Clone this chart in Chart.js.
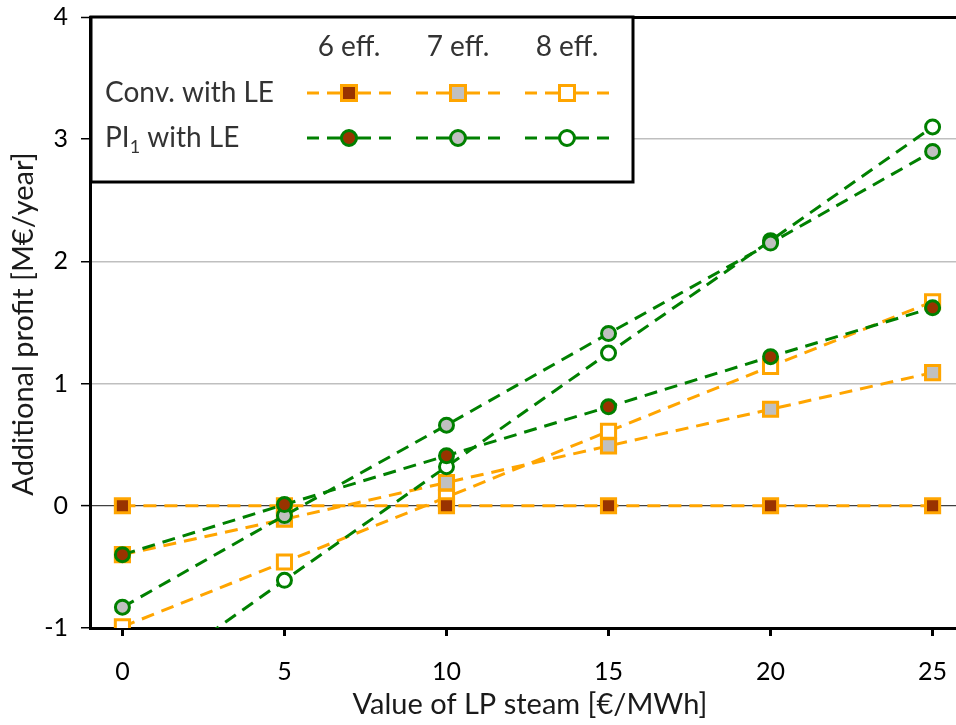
<!DOCTYPE html>
<html>
<head>
<meta charset="utf-8">
<script src="https://cdn.jsdelivr.net/npm/chart.js@4"></script>
<style>
html,body{margin:0;padding:0;background:#fff;overflow:hidden}
#wrap{width:978px;height:725px}
</style>
</head>
<body>
<div id="wrap"><canvas id="c" width="978" height="725"></canvas></div>
<script>
// value of LP steam [€/MWh]
const steamValue = [0, 5, 10, 15, 20, 25];
// additional profit [M€/year]
const conv6 = [0, 0, 0, 0, 0, 0];
const conv7 = [-0.40, -0.11, 0.19, 0.49, 0.79, 1.09];
const conv8 = [-0.99, -0.46, 0.07, 0.61, 1.14, 1.67];
const pi6 = [-0.40, 0.01, 0.41, 0.81, 1.22, 1.62];
const pi7 = [-0.83, -0.08, 0.66, 1.41, 2.15, 2.90];
const pi8 = [-1.55, -0.61, 0.32, 1.25, 2.17, 3.10];

const xTicks = [0, 5, 10, 15, 20, 25];
const yTicks = [-1, 0, 1, 2, 3, 4];
const effLabels = ['6 eff.', '7 eff.', '8 eff.'];
const xTitle = 'Value of LP steam [€/MWh]';
const yTitle = 'Additional profit [M€/year]';

const ORANGE = '#FFA500', GREEN = '#008000', BROWN = '#993300', GREY = '#C0C0C0';
const FONT = 'Lato, "Open Sans", sans-serif';
const fills = [BROWN, GREY, '#ffffff'];

function series(label, vals, color, fill, style) {
  const r = style === 'rect' ? 10 : 7;
  return {
    label,
    data: vals.map((y, i) => ({x: steamValue[i], y})),
    borderColor: color, borderWidth: 3, borderDash: [13, 8], borderCapStyle: 'butt',
    pointStyle: style, pointRadius: r, pointHoverRadius: r, pointBorderWidth: 3,
    pointBorderColor: color, pointBackgroundColor: fill,
    fill: false, tension: 0
  };
}

function marker(ctx, style, x, y, color, fill) {
  ctx.setLineDash([]);
  ctx.lineWidth = 3;
  ctx.strokeStyle = color; ctx.fillStyle = fill;
  ctx.beginPath();
  if (style === 'rect') ctx.rect(x - 7.5, y - 7.5, 15, 15);
  else ctx.arc(x, y, 7.5, 0, Math.PI * 2);
  ctx.fill(); ctx.stroke();
}

const legendPlugin = {
  id: 'effLegend',
  afterDraw(chart) {
    const ctx = chart.ctx;
    ctx.save();
    ctx.fillStyle = '#fff'; ctx.fillRect(91, 17, 542, 165);
    ctx.strokeStyle = '#000'; ctx.lineWidth = 3; ctx.strokeRect(91, 17, 542, 165);

    const cols = [349, 458, 567], rows = [93, 138];
    ctx.fillStyle = '#333';
    ctx.font = '28px ' + FONT;
    ctx.textBaseline = 'middle';
    ctx.textAlign = 'center';
    effLabels.forEach((t, i) => ctx.fillText(t, cols[i], 47));

    ctx.textAlign = 'left';
    ctx.fillText('Conv. with LE', 105, rows[0]);
    ctx.fillText('PI', 105, rows[1]);
    let w = ctx.measureText('PI').width;
    ctx.font = '18px ' + FONT;
    ctx.fillText('1', 105 + w, rows[1] + 9);
    w += ctx.measureText('1').width;
    ctx.font = '28px ' + FONT;
    ctx.fillText(' with LE', 105 + w, rows[1]);

    [[ORANGE, 'rect'], [GREEN, 'circle']].forEach(([color, style], r) => {
      cols.forEach((cx, i) => {
        const y = rows[r];
        ctx.setLineDash([]);
        ctx.strokeStyle = color; ctx.lineWidth = 3;
        [[-42, -30], [-22, 22], [30, 42]].forEach(([a, b]) => {
          ctx.beginPath(); ctx.moveTo(cx + a, y); ctx.lineTo(cx + b, y); ctx.stroke();
        });
        marker(ctx, style, cx, y, color, fills[i]);
      });
    });

    // axis titles
    ctx.fillStyle = '#1a1a1a';
    ctx.font = '29px ' + FONT;
    ctx.textAlign = 'center';
    ctx.textBaseline = 'middle';
    ctx.fillText(xTitle, 530, 705);
    ctx.translate(24, 324);
    ctx.rotate(-Math.PI / 2);
    ctx.fillText(yTitle, 0, 0);
    ctx.restore();
  }
};

new Chart(document.getElementById('c'), {
  type: 'line',
  data: {
    datasets: [
      series('PI1 with LE 6 eff.', pi6, GREEN, BROWN, 'circle'),
      series('PI1 with LE 7 eff.', pi7, GREEN, GREY, 'circle'),
      series('PI1 with LE 8 eff.', pi8, GREEN, '#ffffff', 'circle'),
      series('Conv. with LE 6 eff.', conv6, ORANGE, BROWN, 'rect'),
      series('Conv. with LE 7 eff.', conv7, ORANGE, GREY, 'rect'),
      series('Conv. with LE 8 eff.', conv8, ORANGE, '#ffffff', 'rect')
    ]
  },
  options: {
    responsive: false,
    animation: false,
    devicePixelRatio: 1,
    layout: {padding: {top: 17, left: 0, right: 0, bottom: 0}},
    plugins: {legend: {display: false}, tooltip: {enabled: false}},
    scales: {
      x: {
        type: 'linear', min: -1, max: 26,
        afterBuildTicks: s => { s.ticks = xTicks.map(v => ({value: v})); },
        afterFit: s => { s.height = 97; s.paddingLeft = 0; s.paddingRight = 0; },
        grid: {drawOnChartArea: false, drawTicks: true, tickLength: 8, tickWidth: 3, tickColor: '#000'},
        border: {color: '#000', width: 3},
        ticks: {font: {family: FONT, size: 25}, color: '#000', padding: 21, maxRotation: 0, autoSkip: false}
      },
      y: {
        min: -1, max: 4,
        afterBuildTicks: s => { s.ticks = yTicks.map(v => ({value: v})); },
        afterFit: s => { s.width = 90; s.paddingTop = 0; s.paddingBottom = 0; },
        grid: {
          color: c => c.tick.value === 4 ? '#000' : c.tick.value === 0 ? '#404040' : c.tick.value === -1 ? 'rgba(0,0,0,0)' : '#BFBFBF',
          lineWidth: c => c.tick.value === 4 ? 3 : c.tick.value === 0 ? 1.2 : 1.5,
          tickLength: 9, tickColor: '#000', tickWidth: 1.5
        },
        border: {color: '#000', width: 3},
        ticks: {font: {family: FONT, size: 25}, color: '#000', padding: 13}
      }
    }
  },
  plugins: [legendPlugin]
});
</script>
</body>
</html>
